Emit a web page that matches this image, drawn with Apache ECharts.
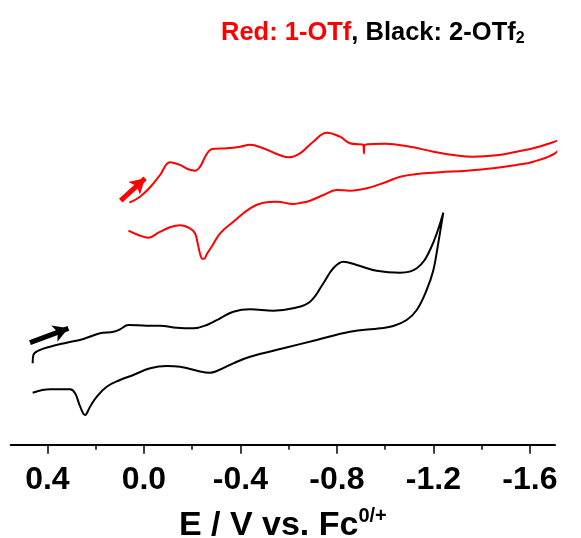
<!DOCTYPE html>
<html>
<head>
<meta charset="utf-8">
<script src="https://cdn.jsdelivr.net/npm/echarts@6/dist/echarts.min.js"></script>
<style>
  html, body { margin: 0; padding: 0; background: #fff; }
  #main { width: 581px; height: 538px; }
</style>
</head>
<body>
<div id="main"></div>
<script>
// 数据: [E (V vs Fc), 电流 (任意单位)]
var redForward = [
    [0.060, 24.20], [0.016, 24.80], [-0.026, 25.74], [-0.067, 26.97], [-0.108, 28.24],
    [-0.150, 27.97], [-0.184, 27.54], [-0.212, 27.40], [-0.233, 27.80], [-0.254, 28.80],
    [-0.274, 29.47], [-0.295, 29.60], [-0.343, 29.64], [-0.399, 29.80], [-0.440, 30.00],
    [-0.495, 29.64], [-0.551, 29.07], [-0.599, 28.74], [-0.647, 29.14], [-0.702, 30.30],
    [-0.758, 31.20], [-0.813, 30.80], [-0.854, 30.14], [-0.910, 29.97], [-0.912, 29.14],
    [-0.915, 29.97], [-1.000, 30.10], [-1.103, 29.80], [-1.200, 29.30], [-1.283, 28.97],
    [-1.365, 28.80], [-1.462, 28.94], [-1.545, 29.30], [-1.614, 29.64], [-1.683, 30.14],
    [-1.752, 30.80], [-1.808, 31.64]
];
var redReverse = [
    [-1.780, 31.14], [-1.738, 30.14], [-1.704, 29.14], [-1.614, 28.30], [-1.545, 27.97],
    [-1.448, 27.64], [-1.338, 27.40], [-1.227, 27.24], [-1.131, 27.07], [-1.062, 26.80],
    [-1.007, 26.30], [-0.924, 25.64], [-0.854, 25.40], [-0.799, 25.47], [-0.744, 24.97],
    [-0.689, 24.40], [-0.647, 24.17], [-0.619, 24.07], [-0.551, 24.30], [-0.495, 24.20],
    [-0.440, 23.64], [-0.371, 22.30], [-0.316, 21.14], [-0.281, 19.80], [-0.261, 19.07],
    [-0.250, 18.60], [-0.242, 18.60], [-0.233, 19.07], [-0.223, 20.14], [-0.212, 21.14],
    [-0.191, 21.64], [-0.150, 21.94], [-0.108, 21.74], [-0.060, 21.20], [-0.019, 20.70],
    [0.023, 20.97], [0.064, 21.40]
];
var blackForward = [
    [0.461, 8.14], [0.458, 8.97], [0.437, 9.40], [0.389, 9.80], [0.320, 10.20],
    [0.251, 10.57], [0.182, 11.14], [0.126, 11.30], [0.099, 11.54], [0.064, 11.97],
    [-0.012, 11.90], [-0.067, 11.90], [-0.136, 11.70], [-0.205, 11.64], [-0.261, 11.97],
    [-0.316, 12.64], [-0.371, 13.30], [-0.440, 13.54], [-0.537, 13.40], [-0.619, 13.64],
    [-0.689, 14.30], [-0.744, 16.14], [-0.785, 17.64], [-0.827, 18.30], [-0.882, 17.97],
    [-0.965, 17.40], [-1.062, 17.20], [-1.131, 17.64], [-1.186, 19.47], [-1.241, 23.20]
];
var blackReverse = [
    [-1.220, 20.14], [-1.200, 17.47], [-1.172, 15.47], [-1.131, 13.47], [-1.089, 12.47],
    [-1.034, 11.87], [-0.979, 11.64], [-0.854, 11.30], [-0.716, 10.47], [-0.578, 9.64],
    [-0.440, 8.80], [-0.371, 8.14], [-0.302, 7.37], [-0.274, 7.20], [-0.233, 7.32],
    [-0.150, 7.80], [-0.095, 7.87], [-0.026, 7.64], [0.044, 6.97], [0.099, 6.47],
    [0.154, 5.80], [0.195, 4.80], [0.223, 3.80], [0.244, 2.97], [0.264, 3.80],
    [0.285, 5.14], [0.306, 5.54], [0.389, 5.54], [0.461, 5.20]
];
// 扫描方向箭头 [起点, 终点]
var redArrow = [[0.096, 24.40], [-0.005, 26.64]];
var blackArrow = [[0.472, 10.20], [0.313, 11.64]];

// 刻度
var tickValues = [0.4, 0.0, -0.4, -0.8, -1.2, -1.6];
var minorTickValues = [0.2, -0.2, -0.6, -1.0, -1.4];

var FONT = '"Liberation Sans", Arial, sans-serif';

var myChart = echarts.init(document.getElementById('main'));

function cvSeries(name, data, color, arrow) {
    return {
        name: name,
        type: 'line',
        data: data,
        smooth: 0.4,
        showSymbol: false,
        clip: false,
        lineStyle: { color: color, width: 2 },
        markLine: {
            silent: true,
            symbol: ['none', 'arrow'],
            symbolSize: [13, 15],
            label: { show: false },
            lineStyle: { color: color, width: 5, type: 'solid' },
            data: [[{ coord: arrow[0] }, { coord: arrow[1] }]]
        },
        animation: false
    };
}

var option = {
    animation: false,
    title: {
        text: '{r|Red: 1-OTf}{k|, Black: 2-OTf}{s|2}',
        left: 216,
        top: 13,
        textStyle: {
            rich: {
                r: { color: '#ff0000', fontSize: 25.5, fontWeight: 'bold', fontFamily: FONT },
                k: { color: '#000', fontSize: 25.5, fontWeight: 'bold', fontFamily: FONT },
                s: { color: '#000', fontSize: 16, fontWeight: 'bold', fontFamily: FONT, padding: [13, 0, 0, 0] }
            }
        }
    },
    grid: { left: 10.7, right: 26, top: 44.7, bottom: 93.3, outerBoundsMode: 'none' },
    xAxis: [{
        type: 'value',
        inverse: true,
        min: -1.704,
        max: 0.552,
        splitLine: { show: false },
        axisLine: { lineStyle: { color: '#000', width: 2 } },
        axisTick: { customValues: tickValues, length: 9, lineStyle: { color: '#000', width: 1.5 } },
        axisLabel: {
            customValues: tickValues,
            margin: 19,
            color: '#000',
            fontSize: 32,
            fontWeight: 'bold',
            fontFamily: FONT,
            formatter: function (v) { return v.toFixed(1); }
        },
        name: '{a|E / V vs. Fc}{b|0/+}',
        nameLocation: 'middle',
        nameGap: 62,
        nameTextStyle: {
            rich: {
                a: { fontSize: 34, fontWeight: 'bold', color: '#000', fontFamily: FONT },
                b: { fontSize: 20, fontWeight: 'bold', color: '#000', fontFamily: FONT, padding: [0, 0, 18, 0] }
            }
        }
    }, {
        type: 'value',
        inverse: true,
        position: 'bottom',
        min: -1.704,
        max: 0.552,
        splitLine: { show: false },
        axisLine: { show: false },
        axisLabel: { show: false },
        axisTick: { customValues: minorTickValues, length: 5, lineStyle: { color: '#000', width: 1.5 } }
    }],
    yAxis: { type: 'value', min: 0, max: 40, show: false },
    series: [
        cvSeries('1-OTf', redForward.concat(redReverse), '#ff0000', redArrow),
        cvSeries('2-OTf2', blackForward.concat(blackReverse), '#000000', blackArrow)
    ]
};

myChart.setOption(option);
</script>
</body>
</html>
